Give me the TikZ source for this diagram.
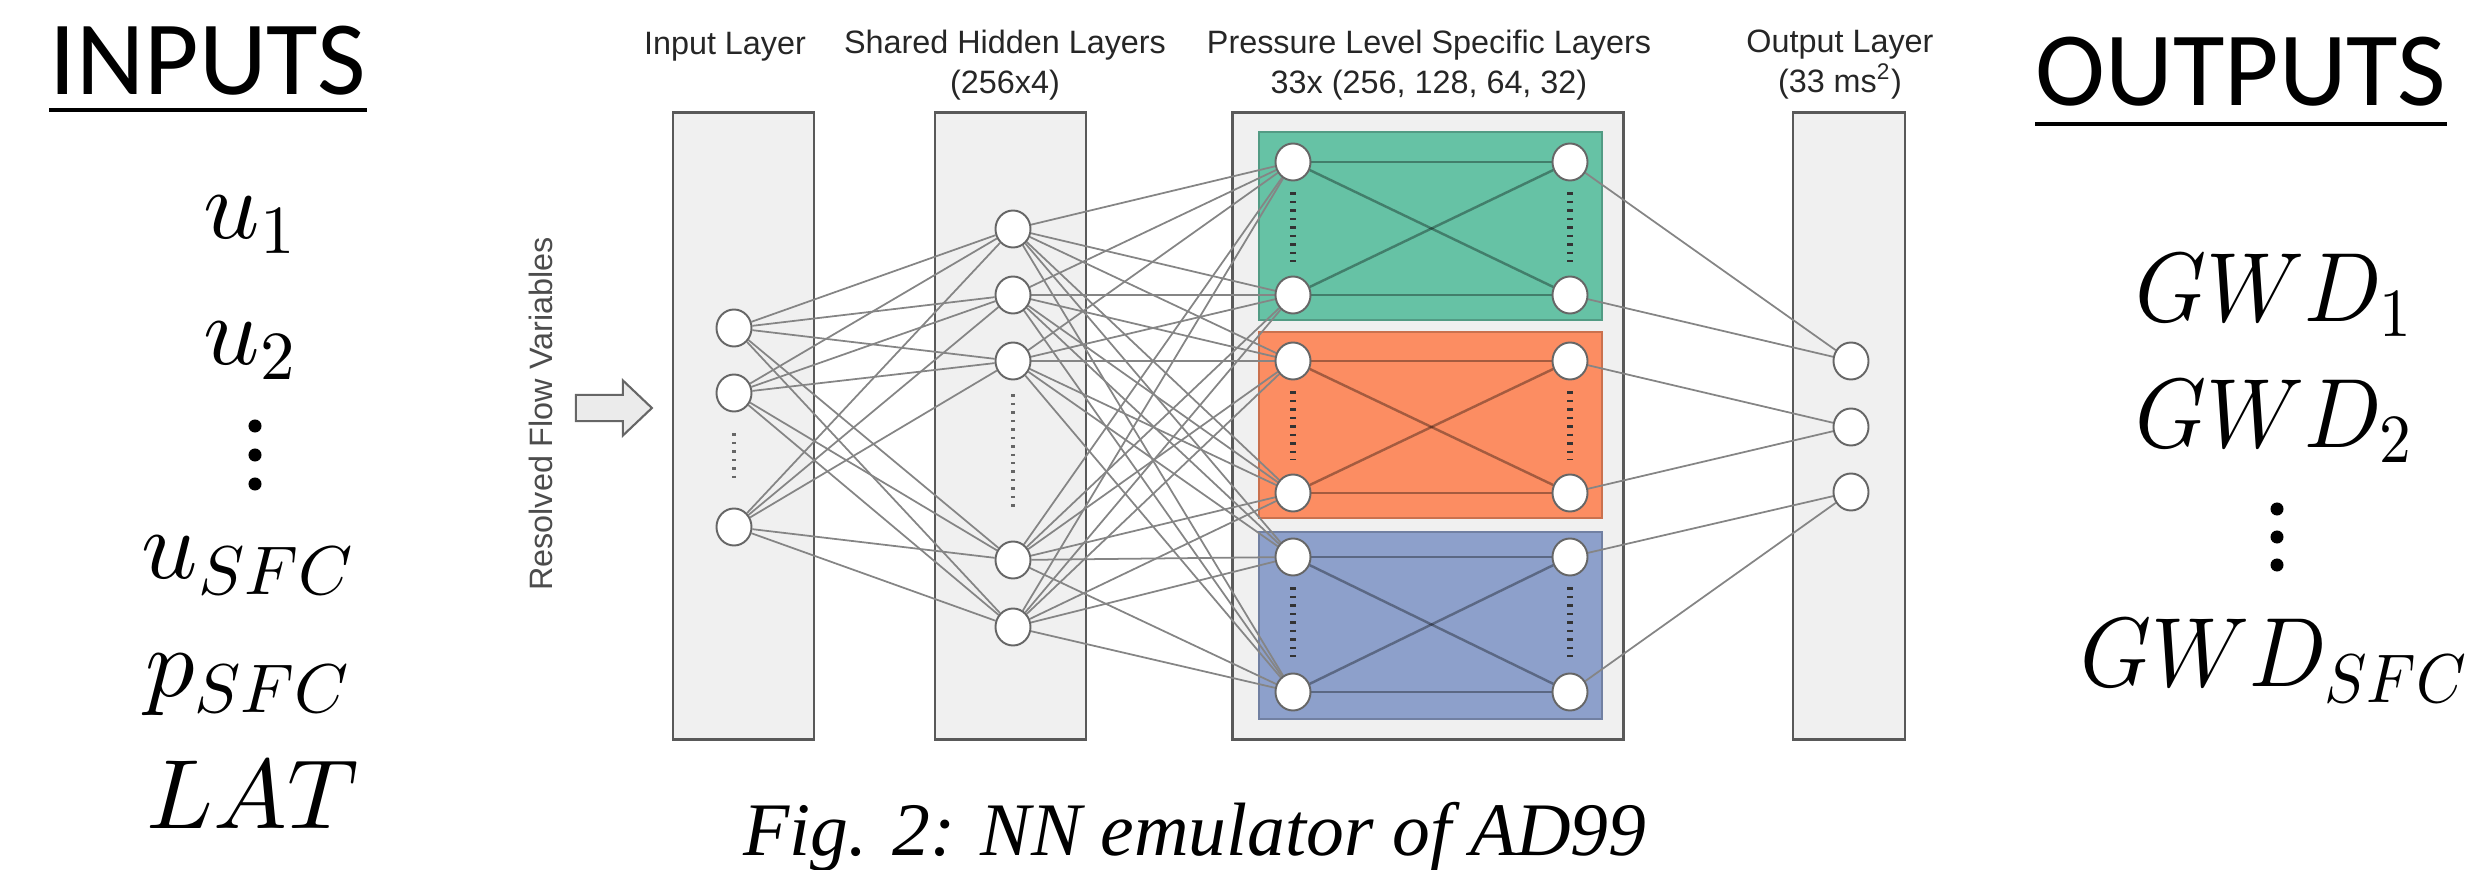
\documentclass[tikz,border=0pt]{standalone}
\usepackage{fontspec}
\usetikzlibrary{shapes.geometric, shapes.arrows, positioning}
\DeclareFontShape{OML}{cmm}{m}{it}{<->cmmi10}{}
\DeclareFontShape{OT1}{cmr}{m}{n}{<->cmr10}{}
\newfontfamily\hdfont{Liberation Sans}
\newfontfamily\bigfont{Carlito}
\newfontfamily\capfont{Liberation Serif}
\newcommand{\narrowmath}[1]{\scalebox{0.92}[1]{$#1$}}
\definecolor{setgreen}{HTML}{66C2A5}
\definecolor{setorange}{HTML}{FC8D62}
\definecolor{setblue}{HTML}{8DA0CB}
\pgfdeclarelayer{back}
\pgfdeclarelayer{mid}
\pgfsetlayers{back,mid,main}
\begin{document}
\begin{tikzpicture}[x=0.01cm, y=-0.01cm]
    \tikzstyle{every node}=[inner sep=0pt]
    \tikzset{
        layer/.style={draw=black!65, line width=0.8pt, fill=black!6},
        blk/.style={draw=#1!80!black, line width=0.4pt, fill=#1},
        neuron/.style={ellipse, draw=black!60, line width=0.55pt, fill=white, minimum width=0.35cm, minimum height=0.37cm},
        wire/.style={black!48, line width=0.5pt},
        inwire/.style={black, opacity=0.35, line width=0.7pt},
        dotline/.style={black!80, line width=1.5pt, dash pattern=on 0.7pt off 1.7pt},
        head/.style={font=\hdfont\fontsize{9.2}{11.4}\selectfont, text=black!85, align=center},
        bigtitle/.style={font=\bigfont\fontsize{30}{36}\selectfont},
        var/.style={font=\fontsize{28}{34}\selectfont}
        }
    \useasboundingbox (0,0) rectangle (2468,870);

    %inputs list
    \node (inputs) [bigtitle, anchor=base] at (208,95) {INPUTS};
    \draw[line width=1.1pt] ([yshift=-0.15cm]inputs.base west) -- ([yshift=-0.15cm]inputs.base east);
    \node (u1) [var, anchor=base] at (250,239) {$u_1$};
    \node (u2) [var, anchor=base] at (250,365) {$u_2$};
    \foreach \d in {426,455,484} \fill (255,\d) circle (0.065cm);
    \node (usfc) [var, anchor=base] at (248,578) {$u_{SFC}$};
    \node (psfc) [var, anchor=base] at (248,696) {$p_{SFC}$};
    \node (lat) [var, anchor=base] at (253,828) {$LAT$};

    %outputs list
    \node (outputs) [bigtitle, anchor=base] at (2241,106) {OUTPUTS};
    \draw[line width=1.1pt] ([yshift=-0.18cm]outputs.base west) -- ([yshift=-0.18cm]outputs.base east);
    \node (gwd1) [var, anchor=base] at (2274,322) {\narrowmath{GWD_1}};
    \node (gwd2) [var, anchor=base] at (2274,448) {\narrowmath{GWD_2}};
    \foreach \d in {509,537,565} \fill (2277,\d) circle (0.065cm);
    \node (gwdsfc) [var, anchor=base] at (2274,686) {\narrowmath{GWD_{SFC}}};

    %headers
    \node (inhead) [head, anchor=base] at (725,55) {Input Layer};
    \node (sharedhead) [head] at (1005,65) {Shared Hidden Layers\\(256x4)};
    \node (presshead) [head] at (1429,65) {Pressure Level Specific Layers\\33x (256, 128, 64, 32)};
    \node (outhead) [head] at (1840,65) {Output Layer\\(33 ms\textsuperscript{2})};

    %resolved flow
    \node (flowlabel) [head, text=black!70, rotate=90] at (541,414) {Resolved Flow Variables};
    \node (flowarrow) [single arrow, draw=black!60, fill=black!8, line width=0.6pt, inner sep=0.12cm,
        minimum height=0.76cm, single arrow head extend=0.145cm, single arrow tip angle=87] at (607,408) {};

    %layer columns and blocks
    \begin{pgfonlayer}{back}
        \node (incol) [layer, minimum width=1.41cm, minimum height=6.26cm] at (743.5,426) {};
        \node (sharedcol) [layer, minimum width=1.51cm, minimum height=6.26cm] at (1010.5,426) {};
        \node (presscol) [layer, minimum width=3.90cm, minimum height=6.26cm] at (1428,426) {};
        \node (outcol) [layer, minimum width=1.12cm, minimum height=6.26cm] at (1849,426) {};
        \node (gnblock) [blk=setgreen, minimum width=3.43cm, minimum height=1.88cm] at (1430.5,226) {};
        \node (orblock) [blk=setorange, minimum width=3.43cm, minimum height=1.86cm] at (1430.5,425) {};
        \node (blblock) [blk=setblue, minimum width=3.43cm, minimum height=1.87cm] at (1430.5,625.5) {};
    \end{pgfonlayer}

    %neurons
    \node (in1) [neuron] at (734,328) {};
    \node (in2) [neuron] at (734,393) {};
    \node (in3) [neuron] at (734,527) {};

    \node (h1) [neuron] at (1013,229) {};
    \node (h2) [neuron] at (1013,295) {};
    \node (h3) [neuron] at (1013,361) {};
    \node (h4) [neuron] at (1013,560) {};
    \node (h5) [neuron] at (1013,627) {};

    \node (gn1) [neuron] at (1293,162) {};
    \node (gn2) [neuron] at (1293,295) {};
    \node (gn3) [neuron] at (1570,162) {};
    \node (gn4) [neuron] at (1570,295) {};
    \node (or1) [neuron] at (1293,361) {};
    \node (or2) [neuron] at (1293,493) {};
    \node (or3) [neuron] at (1570,361) {};
    \node (or4) [neuron] at (1570,493) {};
    \node (bl1) [neuron] at (1293,557) {};
    \node (bl2) [neuron] at (1293,692) {};
    \node (bl3) [neuron] at (1570,557) {};
    \node (bl4) [neuron] at (1570,692) {};

    \node (out1) [neuron] at (1851,361) {};
    \node (out2) [neuron] at (1851,427) {};
    \node (out3) [neuron] at (1851,492) {};

    %connections
    \begin{pgfonlayer}{mid}
        \foreach \a in {in1,in2,in3}
            \foreach \b in {h1,h2,h3,h4,h5}
                \draw[wire] (\a) -- (\b);
        \foreach \a in {h1,h2,h3,h4,h5}
            \foreach \b in {gn1,gn2,or1,or2,bl1,bl2}
                \draw[wire] (\a) -- (\b);
        \foreach \s in {gn,or,bl} {
            \draw[inwire] (\s1) -- (\s3);
            \draw[inwire] (\s2) -- (\s4);
            \draw[inwire] (\s1) -- (\s4);
            \draw[inwire] (\s2) -- (\s3);
            \draw[dotline, shorten <=0.11cm, shorten >=0.14cm] (\s1) -- (\s2);
            \draw[dotline, shorten <=0.11cm, shorten >=0.14cm] (\s3) -- (\s4);
        }
        \draw[wire] (gn3) -- (out1);
        \draw[wire] (gn4) -- (out1);
        \draw[wire] (or3) -- (out2);
        \draw[wire] (or4) -- (out2);
        \draw[wire] (bl3) -- (out3);
        \draw[wire] (bl4) -- (out3);
        \draw[dotline, black!60, line width=1.2pt, shorten <=0.21cm, shorten >=0.25cm] (in2) -- (in3);
        \draw[dotline, black!60, line width=1.2pt, shorten <=0.14cm, shorten >=0.29cm] (h3) -- (h4);
    \end{pgfonlayer}

    %caption
    \node (caption) [font=\capfont\itshape\fontsize{21.5}{26}\selectfont, anchor=base] at (1195,855) {Fig. 2: NN emulator of AD99};
\end{tikzpicture}
\end{document}
